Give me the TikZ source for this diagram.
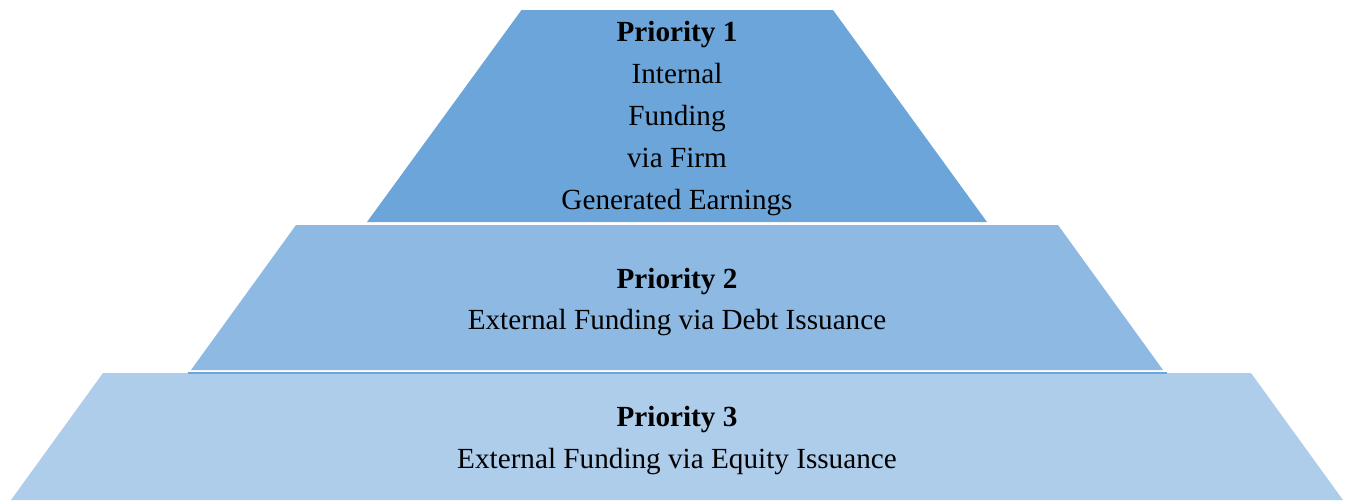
\documentclass[tikz,border=0pt]{standalone}
\usepackage{fontspec}
\setmainfont{Liberation Serif}

\definecolor{tierone}{RGB}{108,165,217}
\definecolor{tiertwo}{RGB}{141,185,226}
\definecolor{tierthree}{RGB}{174,205,234}

\tikzset{
  tiertext/.style={anchor=base, inner sep=0pt, font=\fontsize{14.6pt}{21pt}\selectfont},
  tiertitle/.style={anchor=base, inner sep=0pt, font=\fontsize{14.6pt}{21pt}\selectfont\bfseries}
}

\begin{document}
\begin{tikzpicture}[x=0.5pt,y=-0.5pt]
    \pgfmathsetmacro{\cx}{677}
    \useasboundingbox (0,0) rectangle (1351,500);

    % Draw the tiers
    \fill [tierone] (521.5,10) -- (833,10) -- (987,222) -- (367,222) -- cycle;
    \fill [tiertwo] (296,225) -- (1058,225) -- (1163,370) -- (191,370) -- cycle;
    \fill [tierthree] (103,373) -- (1251,373) -- (1343,500) -- (11,500) -- cycle;
    \draw [tierone, line width=1pt] (188,373) -- (1167,373);

    % Priority 1
    \node [tiertitle] (pone) at (\cx,41.5) {Priority 1};
    \node [tiertext] (ponea) at (\cx,83.5) {Internal};
    \node [tiertext] (poneb) at (\cx,125.5) {Funding};
    \node [tiertext] (ponec) at (\cx,167.5) {via Firm};
    \node [tiertext] (poned) at (\cx,209.5) {Generated Earnings};

    % Priority 2
    \node [tiertitle] (ptwo) at (\cx,288) {Priority 2};
    \node [tiertext] (ptwoa) at (\cx,329.5) {External Funding via Debt Issuance};

    % Priority 3
    \node [tiertitle] (pthree) at (\cx,426) {Priority 3};
    \node [tiertext] (pthreea) at (\cx,468) {External Funding via Equity Issuance};
\end{tikzpicture}
\end{document}
